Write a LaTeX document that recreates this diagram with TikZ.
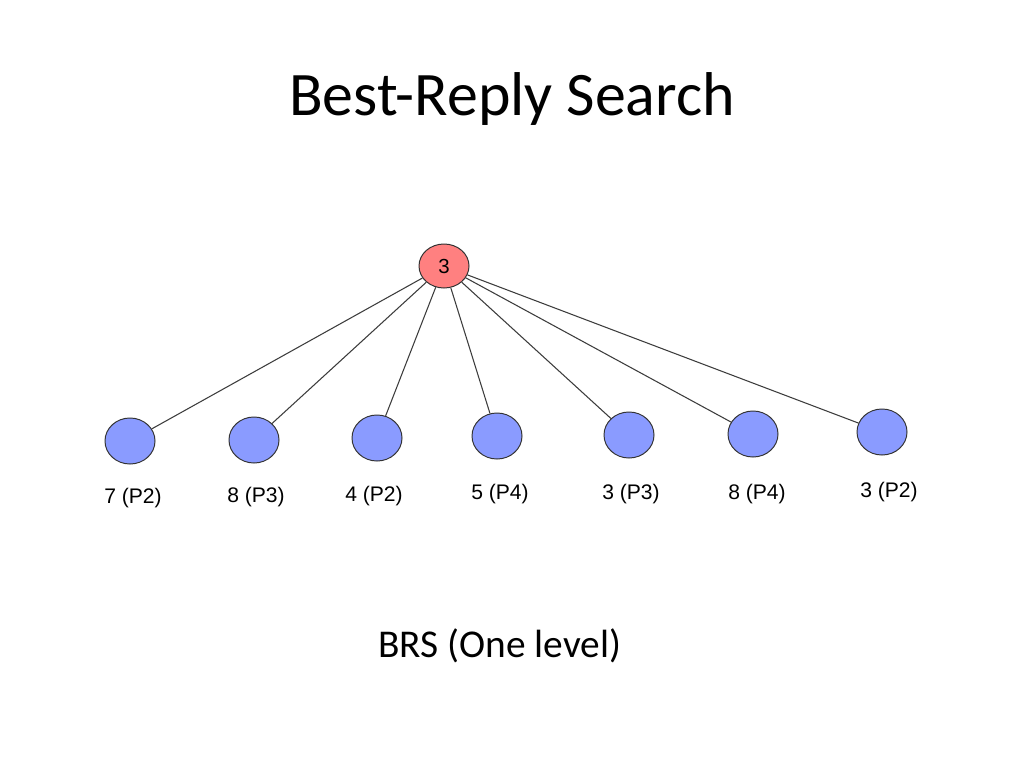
\documentclass[tikz,border=0pt]{standalone}
\usepackage{fontspec}
\setmainfont{Carlito}
\newfontfamily\arialfont{Liberation Sans}
\usetikzlibrary{shapes.geometric}
\definecolor{rootred}{RGB}{255,128,128}
\definecolor{leafblue}{RGB}{138,155,255}
\definecolor{edgegray}{RGB}{60,60,60}
\tikzset{
  rootnode/.style={ellipse, draw=black!80, line width=0.7pt, fill=rootred, minimum width=1.25cm, minimum height=1.1cm, inner sep=0pt, font=\arialfont\fontsize{14.5}{16}\selectfont},
  leafnode/.style={ellipse, draw=black!80, line width=0.7pt, fill=leafblue, minimum width=1.25cm, minimum height=1.15cm, inner sep=0pt},
  leaflabel/.style={font=\arialfont\fontsize{15}{17}\selectfont, inner sep=0pt},
  edge/.style={draw=edgegray, line width=0.75pt}
}
\begin{document}
\begin{tikzpicture}[x=0.025cm,y=-0.025cm]
\useasboundingbox[fill=white] (0,0) rectangle (1024,768);
\node[font=\fontsize{44}{50}\selectfont] (title) at (512,99) {Best-Reply Search};
\node (root) [rootnode] at (444,266) {3};
\node (n1) [leafnode] at (130,441) {};
\node (n2) [leafnode] at (254,440) {};
\node (n3) [leafnode] at (377,438) {};
\node (n4) [leafnode] at (497,436) {};
\node (n5) [leafnode] at (629,435) {};
\node (n6) [leafnode] at (753,434) {};
\node (n7) [leafnode] at (882,432) {};
\foreach \i in {1,...,7} { \draw[edge] (root) -- (n\i); }
\node (l1) [leaflabel] at (133,498) {7 (P2)};
\node (l2) [leaflabel] at (256,497) {8 (P3)};
\node (l3) [leaflabel] at (374,496) {4 (P2)};
\node (l4) [leaflabel] at (500,494) {5 (P4)};
\node (l5) [leaflabel] at (631,494) {3 (P3)};
\node (l6) [leaflabel] at (757,494) {8 (P4)};
\node (l7) [leaflabel] at (889,492) {3 (P2)};
\node[font=\fontsize{28}{34}\selectfont] (caption) at (500,646) {BRS (One level)};
\end{tikzpicture}
\end{document}
